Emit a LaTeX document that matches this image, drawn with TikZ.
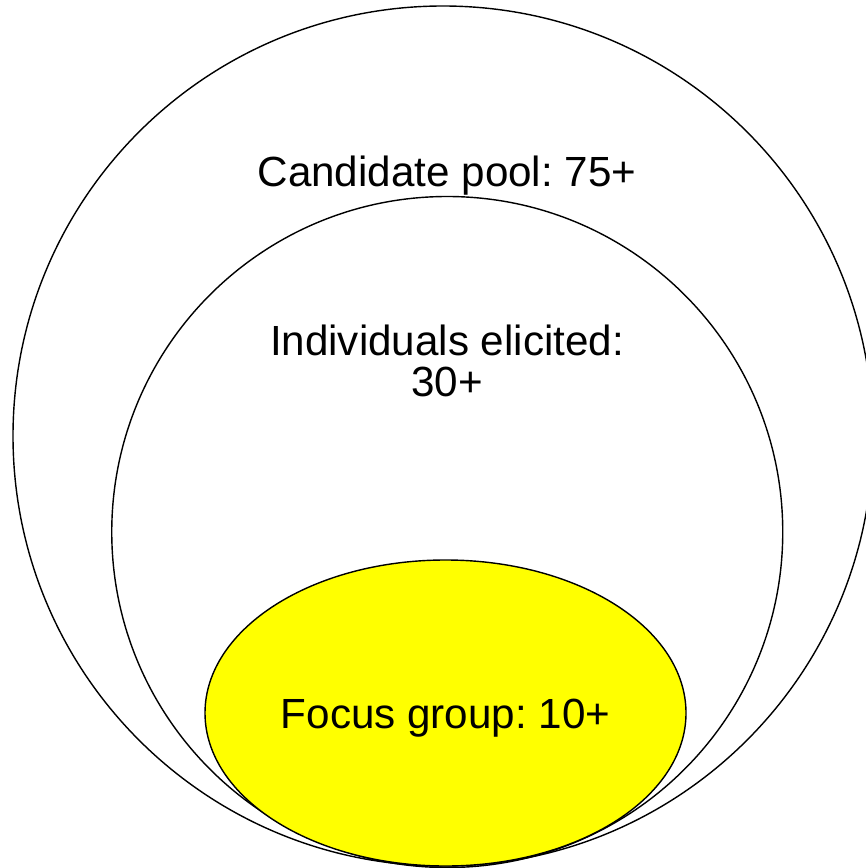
\documentclass[tikz,border=0pt]{standalone}
\usepackage{fontspec}
\setmainfont{Liberation Sans}
\frenchspacing
\usetikzlibrary{shapes.geometric}
\definecolor{focusyellow}{RGB}{255,255,0}

\begin{document}
\begin{tikzpicture}[
  ring/.style={circle, draw, line width=0.8pt, inner sep=0pt},
  ringtext/.style={font=\fontsize{24}{22.8}\selectfont, align=center, inner sep=0pt}
]
\useasboundingbox (0,0) rectangle (17.3,-17.36);

% nested sets, largest first
\node[ring, minimum size=17.2cm] (pool) at (8.86,-8.72) {};
\node[ring, minimum size=13.42cm] (elicited) at (8.945,-10.64) {};
\node[ellipse, draw, line width=0.8pt, fill=focusyellow, inner sep=0pt,
      minimum width=9.62cm, minimum height=6.12cm, ringtext,
      text height=0.8cm, text depth=0.18cm] (focus) at (8.91,-14.26) {Focus group: 10+};

\node[ringtext, anchor=base] (pooltext) at (8.94,-3.74) {Candidate pool: 75+};
\node[ringtext, anchor=base] (elicitedtext) at (8.94,-7.92) {Individuals elicited:\\30+};
\end{tikzpicture}
\end{document}
